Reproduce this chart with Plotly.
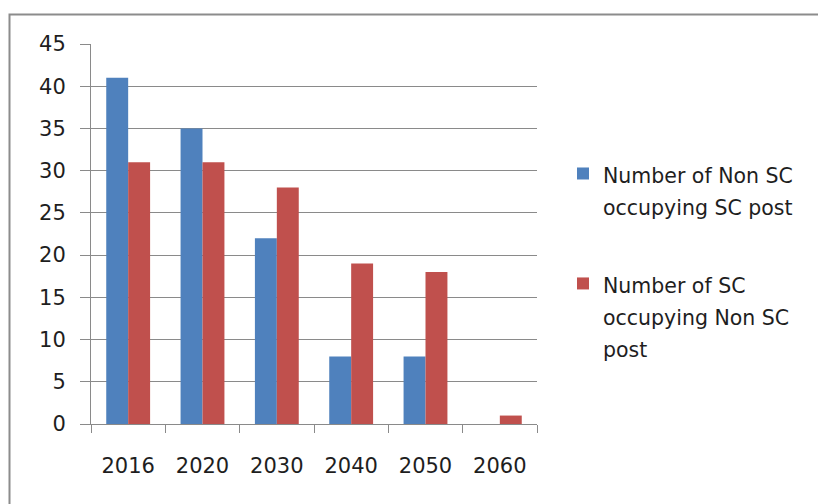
import plotly.graph_objects as go

years = ["2016", "2020", "2030", "2040", "2050", "2060"]
non_sc_in_sc_post = [41, 35, 22, 8, 8, 0]
sc_in_non_sc_post = [31, 31, 28, 19, 18, 1]
series_lines = [
    ["Number of Non SC", "occupying SC post"],
    ["Number of SC", "occupying Non SC", "post"],
]
y_ticks = [0, 5, 10, 15, 20, 25, 30, 35, 40, 45]

W, H = 818, 504
L, R, T, B = 91, 281, 44, 80
pw, ph = W - L - R, H - T - B

font_family = "DejaVu Sans"
text_color = "#1e1e1e"
grid_color = "#8a8a8a"

# legend lines are spaced wider than the glyph size, so the legend font
# sets the line pitch and each line is drawn at a smaller size
legend_pitch_size = 24.6
legend_text_size = 20.5


def legend_label(lines):
    return "<br>".join(
        f'<span style="font-size:{legend_text_size}px">{s}</span>' for s in lines
    )


fig = go.Figure()
fig.add_trace(go.Bar(
    x=years, y=non_sc_in_sc_post, name=legend_label(series_lines[0]),
    marker=dict(color="#4F81BD", line=dict(width=0)), legendgroup="a",
))
fig.add_trace(go.Bar(
    x=years, y=sc_in_non_sc_post, name=legend_label(series_lines[1]),
    marker=dict(color="#C0504D", line=dict(width=0)), legendgroup="b",
))


def px_x(v):
    return (v - L) / pw


def px_y(v):
    return 1 - (v - T) / ph


# outer chart frame (runs off the right and bottom edges)
fig.add_shape(type="rect", xref="paper", yref="paper",
              x0=px_x(9.5), x1=px_x(830), y0=px_y(14.5), y1=px_y(520),
              line=dict(color="#8c8c8c", width=2), fillcolor="rgba(0,0,0,0)",
              layer="above")

fig.update_layout(
    width=W, height=H,
    margin=dict(l=L, r=R, t=T, b=B),
    paper_bgcolor="white", plot_bgcolor="white",
    barmode="group", bargap=0.41, bargroupgap=0,
    font=dict(family=font_family, size=21, color=text_color),
    showlegend=True,
    legend=dict(
        x=px_x(563), y=px_y(151), xanchor="left", yanchor="top",
        valign="top",
        font=dict(family=font_family, size=legend_pitch_size, color=text_color),
        tracegroupgap=43, itemwidth=30, bgcolor="rgba(0,0,0,0)",
    ),
    xaxis=dict(
        type="category", tickson="boundaries", ticks="outside", ticklen=8,
        tickcolor=grid_color, showline=True, linecolor=grid_color, linewidth=1,
        showgrid=False, ticklabelstandoff=23,
        tickfont=dict(family=font_family, size=21, color=text_color),
    ),
    yaxis=dict(
        range=[0, 45], tickvals=y_ticks, ticks="outside", ticklen=10,
        tickcolor=grid_color, showline=True, linecolor=grid_color, linewidth=1,
        showgrid=True, gridcolor=grid_color, gridwidth=1, zeroline=False,
        ticklabelstandoff=10,
        tickfont=dict(family=font_family, size=21, color=text_color),
    ),
)

fig.write_html("out.html")
